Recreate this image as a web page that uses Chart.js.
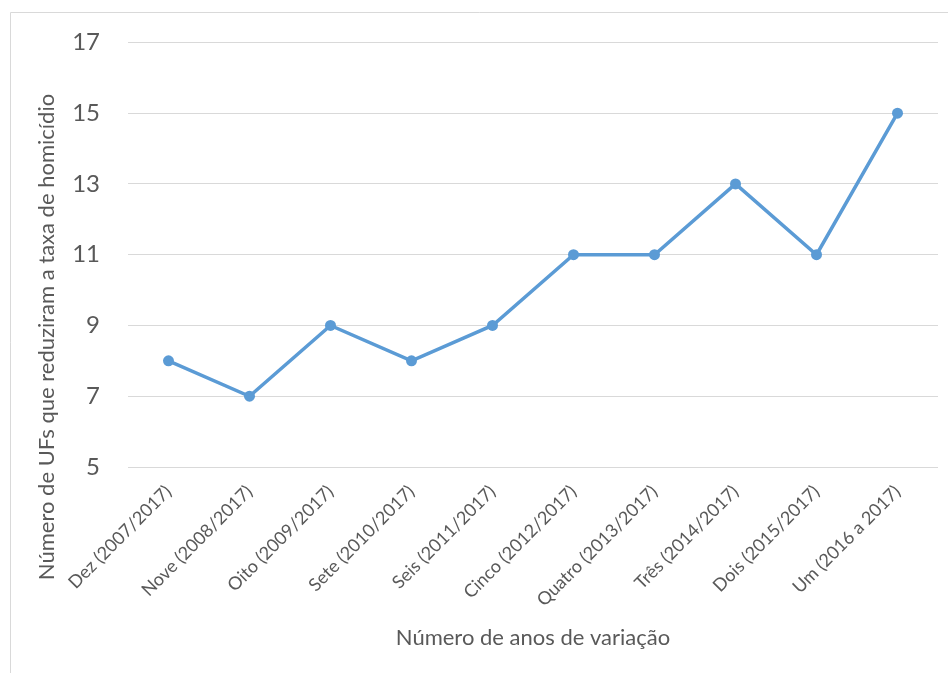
<!DOCTYPE html>
<html>
<head>
<meta charset="utf-8">
<script src="https://cdn.jsdelivr.net/npm/chart.js@4/dist/chart.umd.min.js"></script>
<style>
    html, body { margin: 0; padding: 0; background: #fff; }
    #wrap { position: relative; width: 948px; height: 673px; }
</style>
</head>
<body>
<div id="wrap"><canvas id="chart" width="948" height="673"></canvas></div>
<script>
// Número de UFs que reduziram a taxa de homicídio, por janela de variação
const categories = [
    'Dez (2007/2017)', 'Nove (2008/2017)', 'Oito (2009/2017)', 'Sete (2010/2017)',
    'Seis (2011/2017)', 'Cinco (2012/2017)', 'Quatro (2013/2017)', 'Três (2014/2017)',
    'Dois (2015/2017)', 'Um (2016 a 2017)',
];
const ufsReduziram = [8, 7, 9, 8, 9, 11, 11, 13, 11, 15];
const yTicks = [5, 7, 9, 11, 13, 15, 17];

const yTitle = 'Número de UFs que reduziram a taxa de homicídio';
const xTitle = 'Número de anos de variação';

const TEXT = '#595959';
const GRID = '#d9d9d9';
const LINE = '#5b9bd5';
const FONT = 'Lato, "Open Sans", sans-serif';

// frame of the chart box + the rotated y title (kept off the axis so it can
// sit lower than the plot centre, like the original)
const extras = {
    id: 'extras',
    beforeDraw(chart) {
        const ctx = chart.ctx;
        ctx.save();
        ctx.strokeStyle = GRID;
        ctx.lineWidth = 1;
        ctx.beginPath();
        ctx.moveTo(10.5, chart.height);
        ctx.lineTo(10.5, 12.5);
        ctx.lineTo(chart.width, 12.5);
        ctx.stroke();
        ctx.restore();
    },
    afterDraw(chart) {
        const ctx = chart.ctx;
        ctx.save();
        ctx.translate(47, 337);
        ctx.rotate(-Math.PI / 2);
        ctx.font = '22px ' + FONT;
        ctx.fillStyle = TEXT;
        ctx.textAlign = 'center';
        ctx.textBaseline = 'middle';
        ctx.fillText(yTitle, 0, 0);
        ctx.restore();
    },
};

new Chart(document.getElementById('chart'), {
    type: 'line',
    data: {
        labels: categories,
        datasets: [{
            data: ufsReduziram,
            borderColor: LINE,
            backgroundColor: LINE,
            borderWidth: 3.5,
            pointRadius: 5.5,
            pointBorderWidth: 0,
            tension: 0,
        }],
    },
    options: {
        responsive: false,
        animation: false,
        layout: { padding: { left: 0, top: 40, right: 10, bottom: 0 } },
        plugins: { legend: { display: false }, tooltip: { enabled: false } },
        scales: {
            x: {
                offset: true,
                grid: { display: false },
                border: { display: false },
                ticks: {
                    color: TEXT,
                    font: { family: FONT, size: 18 },
                    minRotation: 45,
                    maxRotation: 45,
                    autoSkip: false,
                    padding: 6,
                },
                title: {
                    display: true,
                    text: xTitle,
                    color: TEXT,
                    font: { family: FONT, size: 22 },
                    padding: { top: 0, bottom: 22 },
                },
                afterFit(scale) { scale.height = 206; },
            },
            y: {
                min: 5,
                max: 17,
                afterBuildTicks(scale) { scale.ticks = yTicks.map((v) => ({ value: v })); },
                grid: { color: GRID, lineWidth: 1, drawTicks: false },
                border: { display: false },
                ticks: {
                    color: TEXT,
                    font: { family: FONT, size: 24 },
                    padding: 28,
                },
                afterFit(scale) { scale.width = 128; },
            },
        },
    },
    plugins: [extras],
});
</script>
</body>
</html>
